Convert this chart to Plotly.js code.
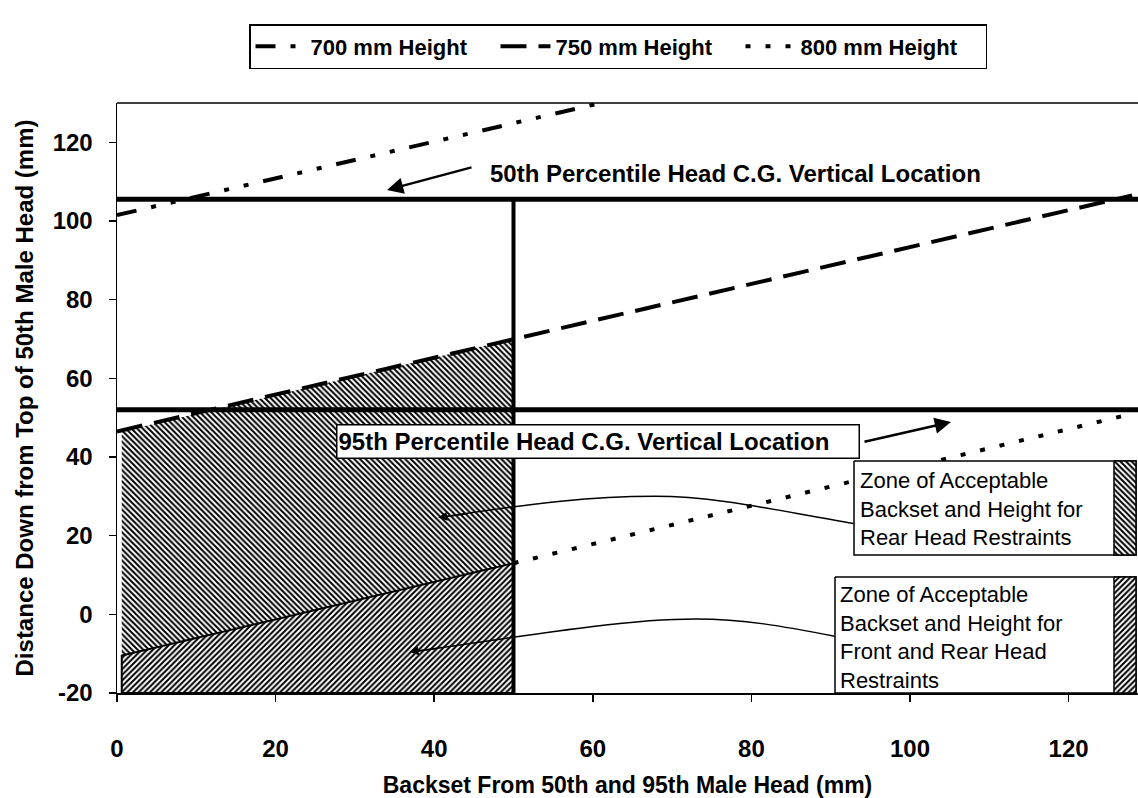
<!DOCTYPE html>
<html><head><meta charset="utf-8">
<script src="https://cdn.plot.ly/plotly-3.0.1.min.js"></script>
<style>html,body{margin:0;padding:0;background:#fff}</style>
</head><body><div id="chart" style="width:1138px;height:798px"></div>
<script>
// ---------- data (mm) ----------
const backset   = [0, 50, 128];        // x positions for the height lines
const h700x     = [0, 61];
const h700y     = [101.5, 130];
const h750y     = [46.5, 70, 106.5];
const h800y     = [-10.5, 13, 51];
const head50    = 105.5;               // 50th percentile head C.G.
const head95    = 52;                  // 95th percentile head C.G.
const zoneX     = [0.6, 50];           // acceptable backset range
const yFloor    = -20;
const xTicks    = [0, 20, 40, 60, 80, 100, 120];
const yTicks    = [-20, 0, 20, 40, 60, 80, 100, 120];
const yTickText = ['-20', '0', '20', '40', '60', '80', '100', '120'];

// ---------- geometry helpers (pixel -> paper) ----------
const W = 1138, H = 798, L = 117, R = 1138, T = 103, B = 693;
const px = x => (x - L) / (R - L);
const py = y => (B - y) / (B - T);
const FONT = 'Liberation Sans, Arial, sans-serif';
const HATCH_A = {shape: '\\', size: 4, solidity: 0.5, fgcolor: '#000', bgcolor: '#fff'};
const HATCH_B = {shape: '/', size: 4, solidity: 0.5, fgcolor: '#000', bgcolor: '#fff'};

const traces = [];
// hatched zones
traces.push({
  x: [zoneX[0], zoneX[1], zoneX[1], zoneX[0], zoneX[0]],
  y: [h800y[0], h800y[1], h750y[1], h750y[0], h800y[0]],
  mode: 'lines', fill: 'toself', line: {width: 0, color: '#000'},
  fillcolor: 'white', fillpattern: HATCH_A, showlegend: false, hoverinfo: 'skip'
});
traces.push({
  x: [zoneX[0], zoneX[1], zoneX[1], zoneX[0], zoneX[0]],
  y: [yFloor, yFloor, h800y[1], h800y[0], yFloor],
  mode: 'lines', fill: 'toself', line: {width: 2, color: '#000'},
  fillcolor: 'white', fillpattern: HATCH_B, showlegend: false, hoverinfo: 'skip'
});
// percentile head lines
traces.push({x: [0, 128.75], y: [head50, head50], mode: 'lines', line: {color: '#000', width: 5}, showlegend: false});
traces.push({x: [0, 128.75], y: [head95, head95], mode: 'lines', line: {color: '#000', width: 5}, showlegend: false});
traces.push({x: [zoneX[1], zoneX[1]], y: [yFloor, head50], mode: 'lines', line: {color: '#000', width: 4}, showlegend: false});
// height lines
traces.push({name: '700 mm Height', x: h700x, y: h700y, mode: 'lines',
  line: {color: '#000', width: 4, dash: '20px,15px,5px,15px,5px,15px'}});
traces.push({name: '750 mm Height', x: backset, y: h750y, mode: 'lines',
  line: {color: '#000', width: 4, dash: '26px,12px'}});
traces.push({name: '800 mm Height', x: backset.slice(1), y: h800y.slice(1), mode: 'lines',
  line: {color: '#000', width: 4, dash: '5px,15px'}});

// key boxes (pixel-space overlay axes)
function rectTrace(x0, y0, x1, y1, extra) {
  return Object.assign({x: [x0, x1, x1, x0, x0], y: [y0, y0, y1, y1, y0], xaxis: 'x2', yaxis: 'y2',
    mode: 'lines', fill: 'toself', showlegend: false, hoverinfo: 'skip'}, extra);
}
traces.push(rectTrace(854, 461, 1136, 555, {fillcolor: '#fff', line: {color: '#000', width: 1.5}}));
traces.push(rectTrace(1114, 461, 1136, 555, {fillcolor: '#fff', line: {color: '#000', width: 1.5}, fillpattern: HATCH_A}));
traces.push(rectTrace(835, 577, 1136, 693, {fillcolor: '#fff', line: {color: '#000', width: 1.5}}));
traces.push(rectTrace(1114, 577, 1136, 693, {fillcolor: '#fff', line: {color: '#000', width: 1.5}, fillpattern: HATCH_B}));

const annotations = [
  {xref: 'paper', yref: 'paper', x: px(488), y: py(173), xanchor: 'left', yanchor: 'middle', showarrow: false,
   text: '50th Percentile Head C.G. Vertical Location', font: {family: FONT, size: 24, weight: 'bold', color: '#000'}},
  {xref: 'paper', yref: 'paper', x: px(387), y: py(190), ax: 86, ay: -23, text: '', showarrow: true,
   arrowhead: 2, arrowsize: 1.3, arrowwidth: 2.5, arrowcolor: '#000'},
  {xref: 'paper', yref: 'paper', x: px(336), y: py(424), xanchor: 'left', yanchor: 'top', showarrow: false,
   text: '95th Percentile Head C.G. Vertical Location', align: 'left', width: 519, height: 30, borderpad: 1,
   bgcolor: '#fff', bordercolor: '#000', borderwidth: 1.5,
   font: {family: FONT, size: 24, weight: 'bold', color: '#000'}},
  {xref: 'paper', yref: 'paper', x: px(951), y: py(422), ax: -88, ay: 20, text: '', showarrow: true,
   arrowhead: 2, arrowsize: 1.3, arrowwidth: 2.5, arrowcolor: '#000'},
  {xref: 'paper', yref: 'paper', x: px(858), y: py(466), xanchor: 'left', yanchor: 'top', showarrow: false, align: 'left',
   text: 'Zone of Acceptable<br>Backset and Height for<br>Rear Head Restraints',
   font: {family: FONT, size: 22, color: '#000'}},
  {xref: 'paper', yref: 'paper', x: px(838), y: py(580), xanchor: 'left', yanchor: 'top', showarrow: false, align: 'left',
   text: 'Zone of Acceptable<br>Backset and Height for<br>Front and Rear Head<br>Restraints',
   font: {family: FONT, size: 22, color: '#000'}},
  // arrowheads of the leader curves
  {xref: 'x', yref: 'y', x: 40.5, y: 24.6, ax: 30, ay: -4, text: '', showarrow: true,
   arrowhead: 2, arrowsize: 1.2, arrowwidth: 1.5, arrowcolor: '#000'},
  {xref: 'x', yref: 'y', x: 36.9, y: -9.6, ax: 30, ay: -4, text: '', showarrow: true,
   arrowhead: 2, arrowsize: 1.2, arrowwidth: 1.5, arrowcolor: '#000'}
];

const shapes = [
  {type: 'line', xref: 'paper', yref: 'paper', x0: 0, x1: 1, y0: 1, y1: 1, line: {color: '#000', width: 1.5}},
  {type: 'path', xref: 'x', yref: 'y', layer: 'above', line: {color: '#000', width: 1.5},
   path: 'M 92.9,23.1 C 84,26 76,30 67.8,30 C 60,30 53,28.5 41,24.7'},
  {type: 'path', xref: 'x', yref: 'y', layer: 'above', line: {color: '#000', width: 1.5},
   path: 'M 90.5,-5.6 C 84,-3 79,-1.2 73,-1.2 C 65,-1.2 56,-4 37.5,-9.5'}
];

const layout = {
  width: W, height: H,
  margin: {l: L, r: W - R, t: T, b: H - B, pad: 0},
  paper_bgcolor: '#fff', plot_bgcolor: '#fff',
  font: {family: FONT, color: '#000'},
  xaxis: {range: [0, 128.75], tickvals: xTicks, showgrid: false, zeroline: false,
    showline: true, linecolor: '#000', linewidth: 1.5, ticks: 'outside', ticklen: 7, tickcolor: '#000', tickwidth: 1.5,
    ticklabelstandoff: 27, tickfont: {family: FONT, size: 24, weight: 'bold'},
    title: {text: 'Backset From 50th and 95th Male Head (mm)', standoff: 20, font: {family: FONT, size: 23, weight: 'bold'}}},
  yaxis: {range: [-20, 130], tickvals: yTicks, ticktext: yTickText, showgrid: false, zeroline: false,
    showline: true, linecolor: '#000', linewidth: 1.5, ticks: 'outside', ticklen: 7, tickcolor: '#000', tickwidth: 1.5,
    ticklabelstandoff: 11, tickfont: {family: FONT, size: 24, weight: 'bold'},
    title: {text: 'Distance Down from Top of 50th Male Head (mm)', standoff: 12, font: {family: FONT, size: 24, weight: 'bold'}}},
  xaxis2: {overlaying: 'x', range: [L, R], visible: false, fixedrange: true},
  yaxis2: {overlaying: 'y', range: [B, T], visible: false, fixedrange: true},
  showlegend: true,
  legend: {orientation: 'h', x: px(249), xanchor: 'left', y: py(24), yanchor: 'top',
    bgcolor: '#fff', bordercolor: '#000', borderwidth: 1.5, itemwidth: 50,
    entrywidth: 180, entrywidthmode: 'pixels',
    font: {family: FONT, size: 22, weight: 'bold', color: '#000'}},
  annotations: annotations, shapes: shapes
};

Plotly.newPlot('chart', traces, layout, {staticPlot: true, displayModeBar: false});
</script></body></html>
